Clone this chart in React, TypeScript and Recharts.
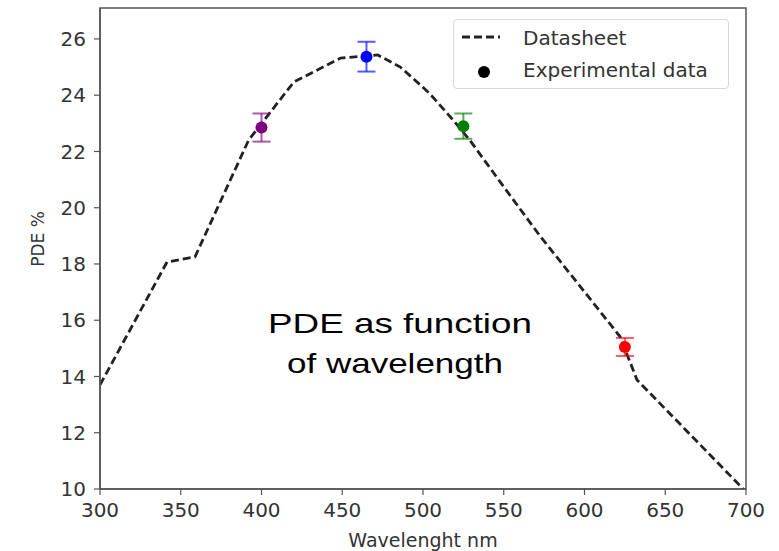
import {
  ComposedChart,
  Line,
  Scatter,
  ErrorBar,
  XAxis,
  YAxis,
  Legend,
  ReferenceArea,
  Customized,
} from "recharts";

const datasheetWavelength = [300, 341.5, 358.8, 392, 420, 449, 472, 486, 504, 518.6, 529, 548, 572, 622, 632.5, 700];
const datasheetPde = [13.7, 18.07, 18.25, 22.4, 24.47, 25.32, 25.43, 25.0, 24.07, 23.12, 22.4, 20.9, 19.03, 15.42, 13.88, 9.9];

// Experimental points
const expWavelength = [400, 465, 525, 625];
const expPde = [22.85, 25.37, 22.9, 15.05];
const expError = [0.5, 0.53, 0.45, 0.32];
const expColors = ["#800080", "#0000ff", "#008000", "#ff0000"];

const xTicks = [300, 350, 400, 450, 500, 550, 600, 650, 700];
const yTicks = [10, 12, 14, 16, 18, 20, 22, 24, 26];

const datasheetData = datasheetWavelength.map((wl, i) => ({ wl, pde: datasheetPde[i] }));
const expData = expWavelength.map((wl, i) => ({ wl, pde: expPde[i], err: expError[i] }));

const AXIS = "#555";
const TEXT = "#333";

const renderLegend = () => (
  <div
    style={{
      border: "1px solid #d8d8d8",
      borderRadius: 4,
      background: "#fff",
      height: 70,
      width: 276,
      boxSizing: "border-box",
      fontFamily: "DejaVu Sans",
      fontSize: 20,
      color: TEXT,
      position: "relative",
    }}
  >
    <svg width={60} height={68} style={{ position: "absolute", left: 0, top: 0 }}>
      <line x1={8} x2={46} y1={17} y2={17} stroke="#222" strokeWidth={2.8} strokeDasharray="8 4" />
      <circle cx={30} cy={52} r={6} fill="#000" />
    </svg>
    <div style={{ position: "absolute", left: 69, top: 6, whiteSpace: "nowrap" }}>Datasheet</div>
    <div style={{ position: "absolute", left: 69, top: 38, whiteSpace: "nowrap" }}>Experimental data</div>
  </div>
);

const Annotation = () => (
  <g fontFamily="Liberation Sans, Arial" fontSize={28} fill="#000">
    <text x={400} y={333} textAnchor="middle" textLength={264} lengthAdjust="spacingAndGlyphs">
      PDE as function
    </text>
    <text x={395} y={373} textAnchor="middle" textLength={216} lengthAdjust="spacingAndGlyphs">
      of wavelength
    </text>
  </g>
);

const YLabel = () => (
  <text
    x={38}
    y={239}
    transform="rotate(-90, 38, 239)"
    textAnchor="middle"
    dominantBaseline="central"
    fontFamily="DejaVu Sans"
    fontSize={17}
    fill={TEXT}
  >
    PDE %
  </text>
);

export default function App() {
  const tickStyle = { fontFamily: "DejaVu Sans", fontSize: 20, fill: TEXT };
  return (
    <div style={{ position: "absolute", left: 0, top: 0, width: 779, height: 551, background: "#fff" }}>
      <ComposedChart width={779} height={551} margin={{ top: 8, right: 33, bottom: 0, left: 0 }}>
        <XAxis
          type="number"
          dataKey="wl"
          domain={[300, 700]}
          ticks={xTicks}
          allowDataOverflow
          height={62}
          tickSize={6}
          tickMargin={8}
          axisLine={{ stroke: AXIS, strokeWidth: 1.5 }}
          tickLine={{ stroke: AXIS, strokeWidth: 1.2 }}
          tick={tickStyle}
          label={{
            value: "Wavelenght nm",
            position: "insideBottom",
            offset: 4,
            style: { fontFamily: "DejaVu Sans", fontSize: 19, fill: TEXT },
          }}
        />
        <YAxis
          type="number"
          dataKey="pde"
          domain={[10, 27.1]}
          ticks={yTicks}
          allowDataOverflow
          width={100}
          tickSize={6}
          tickMargin={8}
          axisLine={{ stroke: AXIS, strokeWidth: 1.5 }}
          tickLine={{ stroke: AXIS, strokeWidth: 1.2 }}
          tick={tickStyle}
        />
        <ReferenceArea x1={300} x2={700} y1={10} y2={27.1} fill="none" stroke={AXIS} strokeWidth={1.5} ifOverflow="visible" />
        <Line
          data={datasheetData}
          dataKey="pde"
          type="linear"
          stroke="#222"
          strokeWidth={2.8}
          strokeDasharray="8 4"
          dot={false}
          activeDot={false}
          isAnimationActive={false}
          legendType="none"
        />
        {expData.map((d, i) => (
          <Scatter
            key={i}
            data={[d]}
            dataKey="pde"
            legendType="none"
            isAnimationActive={false}
            shape={(p: any) => <circle cx={p.cx} cy={p.cy} r={6} fill={expColors[i]} />}
          >
            <ErrorBar dataKey="err" direction="y" width={9} stroke={expColors[i]} strokeWidth={2} strokeOpacity={0.65} />
          </Scatter>
        ))}
        <Legend
          layout="vertical"
          align="center"
          verticalAlign="middle"
          content={renderLegend}
          wrapperStyle={{ position: "absolute", top: 19, left: 453, width: 276, height: 70 }}
        />
        <Customized component={Annotation} />
        <Customized component={YLabel} />
      </ComposedChart>
    </div>
  );
}
